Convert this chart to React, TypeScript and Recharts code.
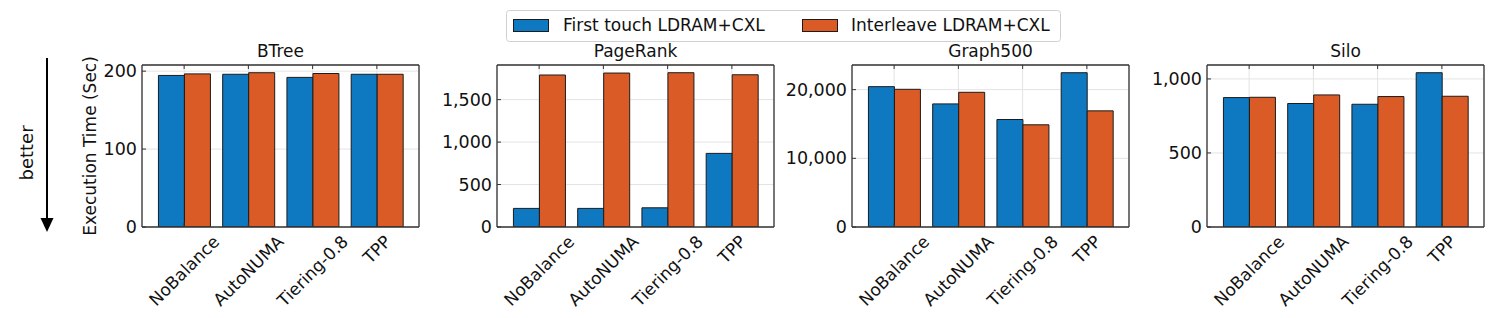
import React from 'react';
import {Bar, BarChart, CartesianGrid, XAxis, YAxis} from 'recharts';

const categories = ['NoBalance', 'AutoNUMA', 'Tiering-0.8', 'TPP'];
const seriesNames = ['First touch LDRAM+CXL', 'Interleave LDRAM+CXL'];
const seriesColors = ['#0E78C1', '#DA5B26'];
const panelTitles = ['BTree', 'PageRank', 'Graph500', 'Silo'];

const btreeFirst = [194.5, 196, 192, 196];
const btreeInter = [196.5, 198, 197, 196];
const pagerankFirst = [219, 219, 226, 867];
const pagerankInter = [1790, 1813, 1817, 1793];
const graphFirst = [20435, 17923, 15652, 22464];
const graphInter = [20048, 19614, 14879, 16908];
const siloFirst = [874, 834, 829, 1042];
const siloInter = [876, 892, 881, 883];

const btreeTicks = [0, 100, 200];
const pagerankTicks = [0, 500, 1000, 1500];
const graphTicks = [0, 10000, 20000];
const siloTicks = [0, 500, 1000];

const FONT = '"DejaVu Sans", sans-serif';
const AXIS = '#333';
const PLOT_W = 277;
const PLOT_TOP = 65;
const PLOT_BOTTOM = 227;
const Y_AXIS_W = 70;

let ctx: CanvasRenderingContext2D | null = null;
function textWidth(s: string, size: number) {
  if (!ctx) ctx = document.createElement('canvas').getContext('2d');
  if (!ctx) return s.length * size * 0.6;
  ctx.font = `${size}px "DejaVu Sans"`;
  return ctx.measureText(s).width;
}

const fmt = (v: number) => v.toLocaleString('en-US');

function XTick({x, y, payload}: any) {
  const w = textWidth(String(payload.value), 17);
  const half = ((w + 17 * 0.75) * 0.7071) / 2;
  const cy = y + 7 + half;
  return (
    <g>
      <line x1={x} x2={x} y1={y} y2={y - 4} stroke={AXIS} />
      <text x={x} y={cy} transform={`rotate(-45 ${x} ${cy})`} textAnchor="middle" dominantBaseline="central" fontSize={17} fontFamily={FONT} fill="#111">
        {payload.value}
      </text>
    </g>
  );
}

function TopTick({x, y}: any) {
  return <line x1={x} x2={x} y1={y} y2={y + 4} stroke={AXIS} />;
}

function YTick({x, y, payload}: any) {
  return (
    <g>
      <line x1={x} x2={x + 4} y1={y} y2={y} stroke={AXIS} />
      <text x={x - 5} y={y} textAnchor="end" dominantBaseline="central" fontSize={17.5} fontFamily={FONT} fill="#111">
        {fmt(payload.value)}
      </text>
    </g>
  );
}

type PanelProps = {left: number; first: number[]; inter: number[]; ticks: number[]};

function Panel({left, first, inter, ticks}: PanelProps) {
  const rows = categories.map((name, i) => ({name, first: first[i], inter: inter[i]}));
  const top = Math.max(...first, ...inter) * 1.05;
  return (
    <div style={{position: 'absolute', left: left - Y_AXIS_W, top: 0}}>
      <BarChart
        width={Y_AXIS_W + PLOT_W + 6}
        height={318}
        data={rows}
        margin={{top: PLOT_TOP - 10, right: 5, bottom: 0, left: 0}}
        barCategoryGap="10%"
        barGap={0}
      >
        <CartesianGrid stroke="#e3e3e3" />
        <XAxis dataKey="name" height={318 - PLOT_BOTTOM} padding={{left: 10, right: 10}} tickSize={0} tickMargin={0} tickLine={false} axisLine={{stroke: AXIS, strokeWidth: 1.3}} tick={<XTick />} interval={0} />
        <XAxis dataKey="name" xAxisId="top" orientation="top" height={10} padding={{left: 10, right: 10}} tickSize={0} tickMargin={0} tickLine={false} axisLine={{stroke: AXIS, strokeWidth: 1.3}} tick={<TopTick />} interval={0} />
        <YAxis width={Y_AXIS_W} domain={[0, top]} ticks={ticks} allowDataOverflow tickSize={0} tickMargin={0} tickLine={false} axisLine={{stroke: AXIS, strokeWidth: 1.3}} tick={<YTick />} />
        <YAxis yAxisId="right" orientation="right" width={1} tick={false} tickLine={false} axisLine={{stroke: AXIS, strokeWidth: 1.3}} />
        <Bar dataKey="first" name={seriesNames[0]} fill={seriesColors[0]} stroke="#1c1c1c" strokeWidth={1} isAnimationActive={false} />
        <Bar dataKey="inter" name={seriesNames[1]} fill={seriesColors[1]} stroke="#1c1c1c" strokeWidth={1} isAnimationActive={false} />
      </BarChart>
    </div>
  );
}

const panelLefts = [142, 497, 852, 1207];

export default function App() {
  const panels = [
    {first: btreeFirst, inter: btreeInter, ticks: btreeTicks},
    {first: pagerankFirst, inter: pagerankInter, ticks: pagerankTicks},
    {first: graphFirst, inter: graphInter, ticks: graphTicks},
    {first: siloFirst, inter: siloInter, ticks: siloTicks},
  ];
  return (
    <div style={{position: 'absolute', left: 0, top: 0, width: 1495, height: 318, background: '#fff', fontFamily: FONT}}>
      {panels.map((p, i) => (
        <Panel key={panelTitles[i]} left={panelLefts[i]} {...p} />
      ))}
      <svg width={1495} height={318} style={{position: 'absolute', left: 0, top: 0, pointerEvents: 'none'}}>
        {panelTitles.map((t, i) => (
          <text key={t} x={panelLefts[i] + PLOT_W / 2} y={57} textAnchor="middle" fontSize={17} fontFamily={FONT} fill="#111">
            {t}
          </text>
        ))}
        <text transform="translate(96 146) rotate(-90)" textAnchor="middle" fontSize={17} fontFamily={FONT} fill="#111">
          Execution Time (Sec)
        </text>
        <text transform="translate(33 153) rotate(-90)" textAnchor="middle" fontSize={18} fontFamily={FONT} fill="#111">
          better
        </text>
        <line x1={47} x2={47} y1={58} y2={220} stroke="#000" strokeWidth={2} />
        <polygon points="40.5,218 53.5,218 47,232" fill="#000" />
        <rect x={506.5} y={10.5} width={554} height={31} rx={3} fill="#fff" stroke="#d0d0d0" />
        <rect x={513.5} y={19.5} width={35} height={12} fill={seriesColors[0]} stroke="#1c1c1c" />
        <text x={563} y={31} fontSize={17} fontFamily={FONT} fill="#111">{seriesNames[0]}</text>
        <rect x={802.5} y={19.5} width={35} height={12} fill={seriesColors[1]} stroke="#1c1c1c" />
        <text x={851} y={31} fontSize={17} fontFamily={FONT} fill="#111">{seriesNames[1]}</text>
      </svg>
    </div>
  );
}
